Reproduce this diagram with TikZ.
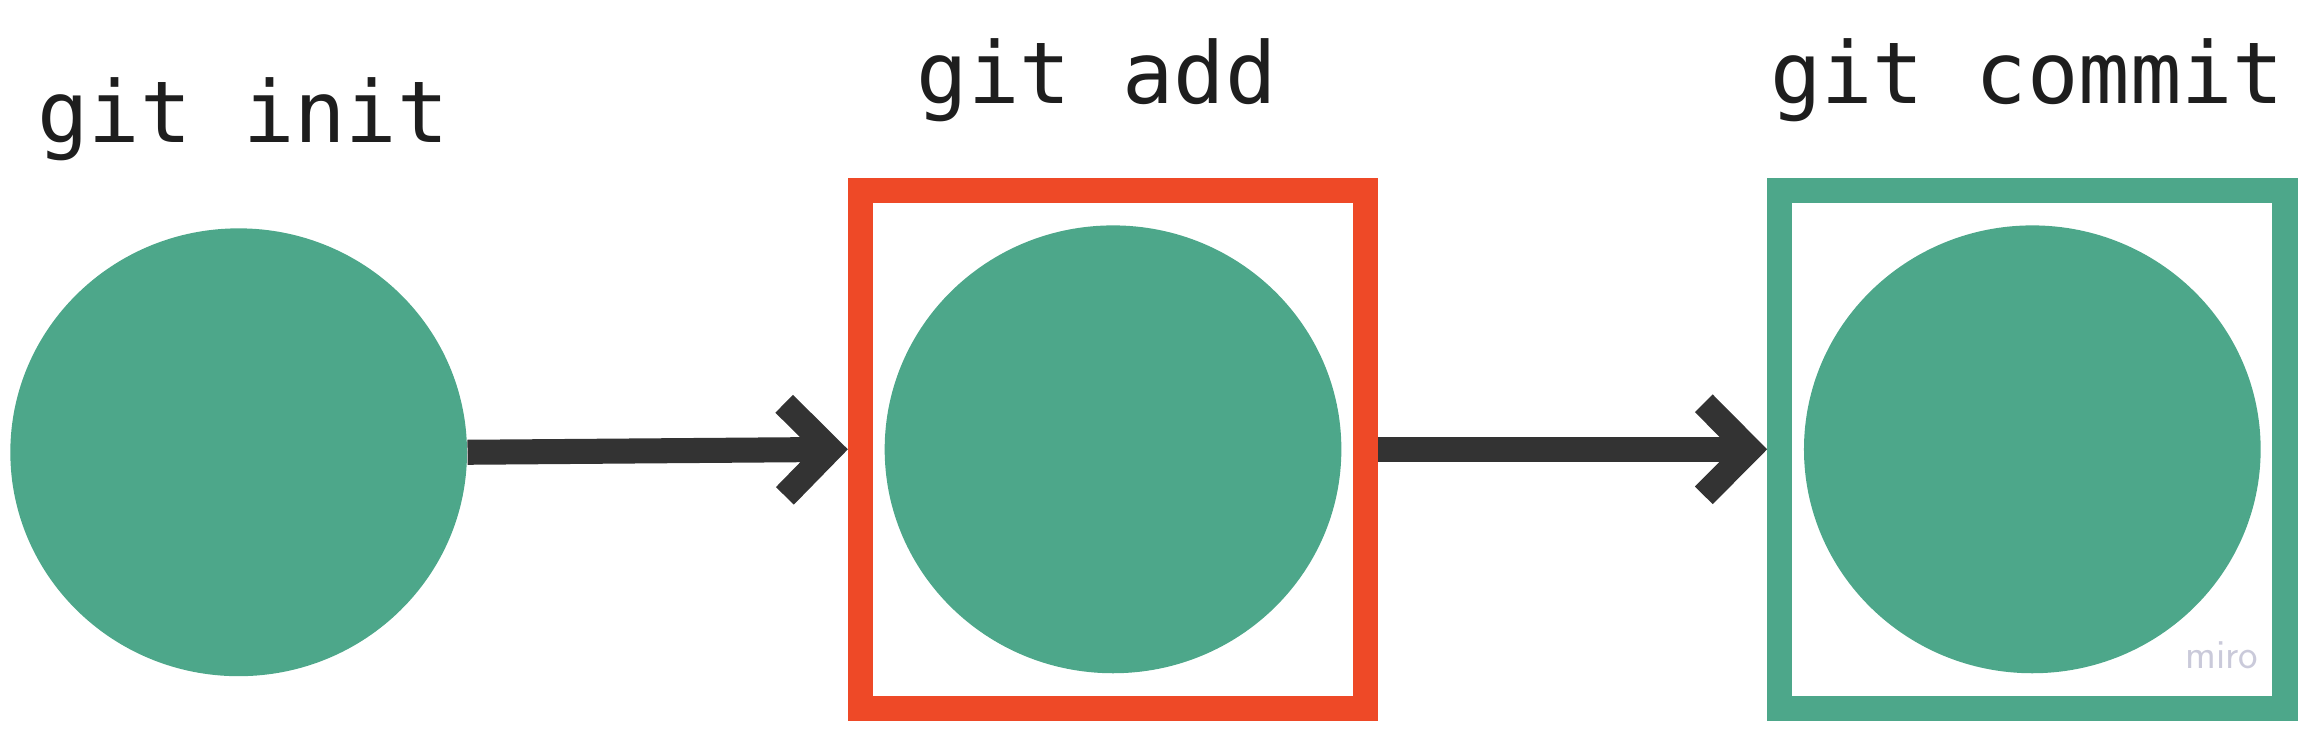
\documentclass[tikz,border=0pt]{standalone}
\usepackage{fontspec}
\newfontfamily\codefont{DejaVu Sans Mono}
\usetikzlibrary{shapes.geometric,arrows.meta}
\definecolor{gitgreen}{RGB}{77,167,138}
\definecolor{gitred}{RGB}{238,73,39}
\definecolor{arrowgray}{RGB}{51,51,51}
\definecolor{inkgray}{RGB}{30,30,30}
\definecolor{mirogray}{RGB}{202,202,218}
\tikzset{
  blob/.style={ellipse, fill=gitgreen, inner sep=0pt, minimum width=6.2cm, minimum height=6.08cm},
  stagebox/.style={draw, line width=0.34cm, inner sep=0pt, minimum width=6.86cm, minimum height=7.04cm},
  cmd/.style={anchor=base, text=inkgray, font=\codefont\fontsize{33}{36}\selectfont},
  flow/.style={draw=arrowgray, line width=0.34cm, -{Straight Barb[length=0.62cm, width=1.25cm, sharp]}}
}
\begin{document}
\begin{tikzpicture}
            \useasboundingbox (0,0) rectangle (31.36,-10.2);

            \node (1) [blob] at (3.24,-6.14) {};
            \node (2) [stagebox, draw=gitred, node distance=11.87cm, right of=1, yshift=0.04cm] {};
            \node (3) [stagebox, draw=gitgreen, node distance=12.48cm, right of=2] {};
            \node (4) [blob] at (2.center) {};
            \node (5) [blob] at (3.center) {};

            \node (6) [cmd] at (3.30,-1.94) {git init};
            \node (7) [cmd] at (14.89,-1.40) {git add};
            \node (8) [cmd] at (27.52,-1.40) {git commit};

            \node (9) [text=mirogray, font=\sffamily\fontsize{16}{18}\selectfont] at (30.16,-8.9) {miro};

            \draw [flow] (1.east) to (2.west);
            \draw [flow] (2.east) to (3.west);
        \end{tikzpicture}
\end{document}
